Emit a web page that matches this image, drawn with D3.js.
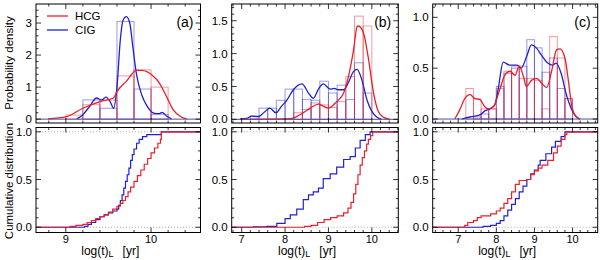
<!DOCTYPE html>
<html><head><meta charset="utf-8">
<script src="https://cdn.jsdelivr.net/npm/d3@7"></script>
<style>
body{margin:0;background:#fff;}
svg text{font-family:"Liberation Sans",Arial,Helvetica,sans-serif;fill:#000;}
</style></head>
<body><svg id="chart" width="600" height="260"></svg>
<script>
const RED = '#e8202a', BLUE = '#2020d0';

// Histograms: [bin start, density], bin width 0.2
const histA_HCG = [[9.0,0.13],[9.2,0.45],[9.4,0.6],[9.6,1.35],[9.8,1.54],[10.0,1.0]];
const histA_CIG = [[9.2,0.6],[9.4,0.34],[9.6,3.05],[9.8,0.94],[10.0,0.15]];
const histB_HCG = [[8.2,0.1],[8.4,0.15],[8.6,0.25],[8.8,0.22],[9.0,0.18],[9.2,0.27],[9.4,0.65],[9.6,1.57],[9.8,1.42]];
const histB_CIG = [[7.2,0.05],[7.4,0.17],[7.6,0.17],[7.8,0.29],[8.0,0.46],[8.2,0.46],[8.4,0.3],[8.6,0.29],[8.8,0.58],[9.0,0.4],[9.2,0.52],[9.4,0.3],[9.6,0.86],[9.8,0.4]];
const histC_HCG = [[7.2,0.3],[7.4,0.2],[7.6,0.1],[7.8,0.1],[8.0,0.3],[8.2,0.47],[8.4,0.52],[8.6,0.4],[8.8,0.4],[9.0,0.38],[9.2,0.1],[9.4,0.81],[9.6,0.6],[9.8,0.2]];
const histC_CIG = [[7.4,0.02],[7.6,0.05],[7.8,0.1],[8.0,0.32],[8.2,0.45],[8.4,0.5],[8.6,0.52],[8.8,0.78],[9.0,0.7],[9.2,0.46],[9.4,0.6],[9.6,0.3],[9.8,0.2]];

// Smoothed density curves: [log t, density]
const kdeA_HCG = [[8.79,0.01],[9.01,0.08],[9.2,0.34],[9.4,0.55],[9.56,0.66],[9.6,0.86],[9.71,1.18],[9.83,1.52],[9.89,1.52],[10.03,1.33],[10.1,1.12],[10.18,0.71],[10.26,0.29],[10.36,0.06],[10.42,0.01]];
const kdeA_CIG = [[9.13,0.01],[9.2,0.14],[9.28,0.4],[9.36,0.66],[9.42,0.6],[9.47,0.69],[9.52,0.55],[9.56,0.34],[9.6,1.0],[9.64,2.5],[9.67,3.08],[9.71,3.2],[9.75,3.0],[9.79,2.17],[9.83,1.39],[9.89,0.76],[9.95,0.42],[10.03,0.19],[10.09,0.17],[10.13,0.21],[10.18,0.1],[10.24,0.01]];
const kdeB_HCG = [[7.0,0.0],[8.12,0.01],[8.35,0.07],[8.58,0.17],[8.77,0.23],[8.88,0.2],[9.0,0.17],[9.19,0.27],[9.35,0.4],[9.46,0.65],[9.58,1.06],[9.66,1.41],[9.69,1.42],[9.81,1.31],[9.92,0.93],[10.04,0.4],[10.15,0.12],[10.27,0.03],[10.42,0.0]];
const kdeB_CIG = [[6.96,0.005],[7.12,0.015],[7.23,0.05],[7.38,0.04],[7.54,0.12],[7.65,0.17],[7.79,0.1],[7.92,0.2],[8.04,0.29],[8.19,0.45],[8.39,0.54],[8.54,0.4],[8.65,0.32],[8.77,0.46],[8.88,0.54],[9.04,0.46],[9.13,0.47],[9.23,0.45],[9.35,0.45],[9.46,0.56],[9.58,0.73],[9.66,0.76],[9.77,0.6],[9.89,0.29],[10.0,0.12],[10.12,0.03],[10.23,0.0]];
const kdeC_HCG = [[6.91,0.0],[7.04,0.09],[7.17,0.2],[7.31,0.24],[7.44,0.2],[7.57,0.19],[7.7,0.12],[7.79,0.1],[7.92,0.12],[8.09,0.29],[8.22,0.43],[8.36,0.47],[8.49,0.43],[8.6,0.52],[8.71,0.42],[8.79,0.32],[8.92,0.38],[9.06,0.4],[9.19,0.35],[9.32,0.31],[9.45,0.47],[9.58,0.68],[9.67,0.69],[9.8,0.6],[9.89,0.38],[9.97,0.15],[10.06,0.04],[10.19,0.0]];
const kdeC_CIG = [[7.09,0.0],[7.31,0.02],[7.57,0.04],[7.7,0.08],[7.83,0.1],[7.96,0.14],[8.05,0.3],[8.18,0.56],[8.35,0.53],[8.55,0.53],[8.65,0.5],[8.8,0.62],[8.92,0.73],[9.05,0.7],[9.18,0.63],[9.35,0.55],[9.48,0.53],[9.57,0.55],[9.7,0.45],[9.83,0.25],[9.97,0.1],[10.1,0.02],[10.2,0.0]];

// Cumulative distributions: [log t where step occurs, value after step]
const cdfA_HCG = [[9.05,0.01],[9.12,0.02],[9.2,0.03],[9.25,0.05],[9.3,0.07],[9.35,0.09],[9.4,0.11],[9.45,0.13],[9.5,0.16],[9.55,0.19],[9.6,0.22],[9.64,0.25],[9.67,0.28],[9.7,0.32],[9.73,0.37],[9.76,0.42],[9.8,0.48],[9.84,0.54],[9.88,0.6],[9.92,0.66],[9.96,0.72],[10.0,0.78],[10.04,0.83],[10.08,0.88],[10.11,0.92],[10.12,1.0]];
const cdfA_CIG = [[9.22,0.01],[9.26,0.03],[9.3,0.05],[9.35,0.08],[9.4,0.11],[9.45,0.13],[9.5,0.15],[9.55,0.17],[9.6,0.19],[9.62,0.23],[9.64,0.28],[9.66,0.34],[9.68,0.41],[9.7,0.48],[9.72,0.55],[9.74,0.62],[9.76,0.7],[9.78,0.76],[9.8,0.82],[9.83,0.88],[9.86,0.92],[9.9,0.95],[9.95,0.97],[10.12,1.0]];
const cdfB_HCG = [[8.45,0.01],[8.6,0.02],[8.75,0.05],[8.9,0.08],[9.05,0.1],[9.2,0.12],[9.35,0.15],[9.45,0.2],[9.52,0.26],[9.58,0.35],[9.63,0.45],[9.68,0.55],[9.73,0.65],[9.78,0.73],[9.83,0.8],[9.88,0.87],[9.92,0.92],[9.97,0.96],[10.02,1.0]];
const cdfB_CIG = [[7.27,0.005],[7.58,0.01],[7.81,0.04],[8.0,0.09],[8.12,0.13],[8.27,0.19],[8.42,0.29],[8.54,0.34],[8.65,0.37],[8.77,0.41],[8.88,0.51],[9.04,0.56],[9.19,0.63],[9.35,0.71],[9.5,0.74],[9.62,0.83],[9.73,0.91],[9.85,0.97],[9.96,1.0]];
const cdfC_HCG = [[7.17,0.02],[7.25,0.05],[7.4,0.07],[7.5,0.1],[7.6,0.12],[7.85,0.14],[8.0,0.17],[8.1,0.2],[8.2,0.25],[8.3,0.3],[8.4,0.37],[8.5,0.45],[8.6,0.49],[8.8,0.5],[8.9,0.55],[9.0,0.59],[9.1,0.62],[9.2,0.65],[9.35,0.7],[9.5,0.78],[9.6,0.85],[9.7,0.92],[9.8,0.97],[9.85,1.0]];
const cdfC_CIG = [[7.65,0.01],[7.85,0.02],[8.0,0.04],[8.1,0.07],[8.2,0.12],[8.3,0.18],[8.4,0.24],[8.5,0.3],[8.6,0.37],[8.7,0.43],[8.8,0.5],[8.9,0.56],[9.0,0.6],[9.1,0.65],[9.15,0.7],[9.3,0.77],[9.45,0.84],[9.55,0.9],[9.7,0.95],[9.8,1.0]];

const xTicksA = [9, 10], xTicksBC = [7, 8, 9, 10];
const yTicksA = [0, 1, 2, 3];
const yTicksB = [0, 0.5, 1.0, 1.5];
const yTicksC = [0, 0.5, 1.0];
const yTicksCdf = [0, 0.5, 1.0];
const panelLabels = ['(a)', '(b)', '(c)'];
const seriesNames = ['HCG', 'CIG'];

const BIN = 0.2;
const cols = [[36, 200.5], [231.7, 398.3], [432.7, 597.7]];
const topRow = [4, 123], botRow = [127.5, 232.5];

const panels = [
  { xDom: [8.65, 10.58], xTicks: xTicksA, yDom: [-0.12, 3.594], yTicks: yTicksA, yMinor: 0.2, fmt: d3.format('d'),
    hist: [histA_CIG, histA_HCG], kde: [kdeA_CIG, kdeA_HCG], cdf: [cdfA_CIG, cdfA_HCG] },
  { xDom: [6.77, 10.61], xTicks: xTicksBC, yDom: [-0.056, 1.755], yTicks: yTicksB, yMinor: 0.1, fmt: d3.format('.1f'),
    hist: [histB_CIG, histB_HCG], kde: [kdeB_CIG, kdeB_HCG], cdf: [cdfB_CIG, cdfB_HCG] },
  { xDom: [6.33, 10.66], xTicks: xTicksBC, yDom: [-0.039, 1.131], yTicks: yTicksC, yMinor: 0.1, fmt: d3.format('.1f'),
    hist: [histC_CIG, histC_HCG], kde: [kdeC_CIG, kdeC_HCG], cdf: [cdfC_CIG, cdfC_HCG] },
];

const svg = d3.select('#chart');
const colors = [BLUE, RED];

function drawFrame(g, x, y, xTicks, yTicks, yMinor, fmt, showXLabels) {
  const [x0, x1] = x.range(), [y1, y0] = y.range();
  // minor x ticks every 0.2
  const xd = x.domain();
  const xMinor = d3.range(Math.ceil(xd[0] / 0.2) * 0.2, xd[1], 0.2);
  const yd = y.domain();
  const yMin = d3.range(Math.ceil(yd[0] / yMinor - 1e-6) * yMinor, yd[1], yMinor);
  const tk = g.append('g').attr('stroke', '#000').attr('stroke-width', 0.8);
  for (const v of xMinor) {
    const len = xTicks.some(t => Math.abs(t - v) < 1e-6) ? 5 : 2.5;
    tk.append('line').attr('x1', x(v)).attr('x2', x(v)).attr('y1', y1).attr('y2', y1 - len);
    tk.append('line').attr('x1', x(v)).attr('x2', x(v)).attr('y1', y0).attr('y2', y0 + len);
  }
  for (const v of yMin) {
    const len = yTicks.some(t => Math.abs(t - v) < 1e-6) ? 5 : 2.5;
    tk.append('line').attr('x1', x0).attr('x2', x0 + len).attr('y1', y(v)).attr('y2', y(v));
    tk.append('line').attr('x1', x1).attr('x2', x1 - len).attr('y1', y(v)).attr('y2', y(v));
  }
  g.append('rect').attr('x', x0).attr('y', y0).attr('width', x1 - x0).attr('height', y1 - y0)
    .attr('fill', 'none').attr('stroke', '#000').attr('stroke-width', 1);
  g.selectAll('text.yl').data(yTicks).enter().append('text').attr('class', 'yl')
    .attr('x', x0 - 4).attr('y', d => y(d)).attr('dy', '0.36em')
    .attr('text-anchor', 'end').attr('font-size', 11.5).text(fmt);
  if (showXLabels) {
    g.selectAll('text.xl').data(xTicks).enter().append('text').attr('class', 'xl')
      .attr('x', d => x(d)).attr('y', 242.5).attr('text-anchor', 'middle').attr('font-size', 11).text(d => d);
  }
}

panels.forEach((p, i) => {
  const col = cols[i];
  const x = d3.scaleLinear().domain(p.xDom).range(col);
  const yT = d3.scaleLinear().domain(p.yDom).range([topRow[1], topRow[0]]);
  const yB = d3.scaleLinear().domain([-0.055, 1.045]).range([botRow[1], botRow[0]]);

  // top panel: histograms + density curves
  const clipT = 'clipT' + i, clipB = 'clipB' + i;
  svg.append('clipPath').attr('id', clipT).append('rect')
    .attr('x', col[0]).attr('y', topRow[0]).attr('width', col[1] - col[0]).attr('height', topRow[1] - topRow[0]);
  svg.append('clipPath').attr('id', clipB).append('rect')
    .attr('x', col[0]).attr('y', botRow[0]).attr('width', col[1] - col[0]).attr('height', botRow[1] - botRow[0]);

  const gT = svg.append('g');
  const plotT = gT.append('g').attr('clip-path', `url(#${clipT})`);
  p.hist.forEach((h, k) => {
    plotT.append('g').selectAll('rect').data(h).enter().append('rect')
      .attr('x', d => x(d[0])).attr('width', d => x(d[0] + BIN) - x(d[0]))
      .attr('y', d => yT(d[1])).attr('height', d => yT(0) - yT(d[1]))
      .attr('fill', 'none').attr('stroke', colors[k]).attr('stroke-opacity', 0.45).attr('stroke-width', 1);
  });
  const line = d3.line().x(d => x(d[0])).y(d => yT(d[1])).curve(d3.curveMonotoneX);
  p.kde.forEach((c, k) => {
    plotT.append('path').datum(c).attr('d', line)
      .attr('fill', 'none').attr('stroke', colors[k]).attr('stroke-width', 1.3);
  });
  plotT.append('line').attr('x1', col[0]).attr('x2', col[1]).attr('y1', yT(0)).attr('y2', yT(0))
    .attr('stroke', '#5050a0').attr('stroke-width', 1);
  drawFrame(gT, x, yT, p.xTicks, p.yTicks, p.yMinor, p.fmt, false);

  // bottom panel: cumulative distributions
  const gB = svg.append('g');
  const plotB = gB.append('g').attr('clip-path', `url(#${clipB})`);
  [0, 1].forEach(v => {
    plotB.append('line').attr('x1', col[0]).attr('x2', col[1]).attr('y1', yB(v)).attr('y2', yB(v))
      .attr('stroke', '#999').attr('stroke-dasharray', '1,2').attr('stroke-width', 0.8);
  });
  const step = d3.line().x(d => x(d[0])).y(d => yB(d[1])).curve(d3.curveStepAfter);
  p.cdf.forEach((c, k) => {
    const pts = [[p.xDom[0], 0], ...c, [p.xDom[1], 1]];
    plotB.append('path').datum(pts).attr('d', step)
      .attr('fill', 'none').attr('stroke', colors[k]).attr('stroke-width', 1.2);
  });
  drawFrame(gB, x, yB, p.xTicks, yTicksCdf, 0.1, d3.format('.1f'), true);

  // panel label
  svg.append('text').attr('x', col[1] - 7).attr('y', 27).attr('text-anchor', 'end')
    .attr('font-size', 14).text(panelLabels[i]);

  // x axis title
  const xt = svg.append('text').attr('x', (col[0] + col[1]) / 2 - 8).attr('y', 255)
    .attr('text-anchor', 'middle').attr('font-size', 12);
  xt.append('tspan').text('log(t)');
  xt.append('tspan').attr('font-size', 9).attr('dy', 2).text('L');
  xt.append('tspan').attr('dy', -2).attr('dx', 9).text('[yr]');
});

// legend
const leg = svg.append('g');
[[RED, seriesNames[0], 16], [BLUE, seriesNames[1], 30]].forEach(([c, t, yy]) => {
  leg.append('line').attr('x1', 47).attr('x2', 68).attr('y1', yy).attr('y2', yy)
    .attr('stroke', c).attr('stroke-width', 1.3);
  leg.append('text').attr('x', 75).attr('y', yy).attr('dy', '0.36em').attr('font-size', 11.5).text(t);
});

// y axis titles
svg.append('text').attr('transform', 'translate(13,63) rotate(-90)')
  .attr('text-anchor', 'middle').attr('font-size', 11.5).text('Probability density');
svg.append('text').attr('transform', 'translate(13,181) rotate(-90)')
  .attr('text-anchor', 'middle').attr('font-size', 11.5).text('Cumulative distribution');
</script></body></html>
